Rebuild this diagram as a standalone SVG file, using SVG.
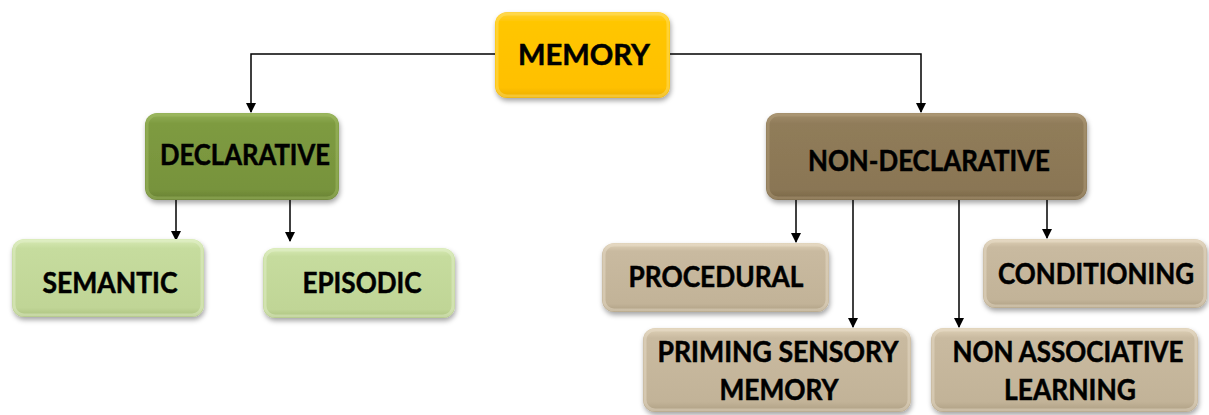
<svg xmlns="http://www.w3.org/2000/svg" width="1209" height="415" viewBox="0 0 1209 415">
  <style>
    .lbl { font-family: "Lato", "Open Sans", "Liberation Sans", sans-serif; font-weight: bold; font-size: 28px; fill: #000; stroke: #000; stroke-width: 0.5; text-anchor: middle; }
    .conn { fill: none; stroke: #000; stroke-width: 1.5; }
    .box { filter: url(#shadow); }
    .hl { fill: none; stroke-width: 3; stroke-opacity: 0.4; }
  </style>
  <defs>
    <filter id="shadow" x="-10%" y="-10%" width="120%" height="135%">
      <feDropShadow dx="1" dy="3" stdDeviation="2.5" flood-color="#000" flood-opacity="0.35"/>
    </filter>
    <marker id="arr" markerWidth="10" markerHeight="10" refX="9" refY="5" orient="auto" markerUnits="userSpaceOnUse">
      <path d="M0,0 L10,5 L0,10 Z" fill="#000"/>
    </marker>
    <linearGradient id="gYellow" x1="0" y1="0" x2="0" y2="1">
      <stop offset="0" stop-color="#FFD033"/>
      <stop offset="0.12" stop-color="#FFC600"/>
      <stop offset="0.88" stop-color="#FFC000"/>
      <stop offset="1" stop-color="#E9AC00"/>
    </linearGradient>
    <linearGradient id="gGreen" x1="0" y1="0" x2="0" y2="1">
      <stop offset="0" stop-color="#93B156"/>
      <stop offset="0.12" stop-color="#7E9B41"/>
      <stop offset="0.88" stop-color="#77933C"/>
      <stop offset="1" stop-color="#677F33"/>
    </linearGradient>
    <linearGradient id="gLight" x1="0" y1="0" x2="0" y2="1">
      <stop offset="0" stop-color="#D8EBB6"/>
      <stop offset="0.12" stop-color="#C6DC9E"/>
      <stop offset="0.88" stop-color="#C0D596"/>
      <stop offset="1" stop-color="#ABC17E"/>
    </linearGradient>
    <linearGradient id="gBrown" x1="0" y1="0" x2="0" y2="1">
      <stop offset="0" stop-color="#A38E6B"/>
      <stop offset="0.12" stop-color="#907C5A"/>
      <stop offset="0.88" stop-color="#8A7654"/>
      <stop offset="1" stop-color="#786647"/>
    </linearGradient>
    <linearGradient id="gTan" x1="0" y1="0" x2="0" y2="1">
      <stop offset="0" stop-color="#E0D2B8"/>
      <stop offset="0.12" stop-color="#C9BAA0"/>
      <stop offset="0.88" stop-color="#C2B398"/>
      <stop offset="1" stop-color="#AD9E82"/>
    </linearGradient>
  </defs>

  <g id="connectors">
    <path class="conn" d="M495,54 H251 V112" marker-end="url(#arr)"/>
    <path class="conn" d="M670,54 H921 V112" marker-end="url(#arr)"/>
    <path class="conn" d="M176,200 V240" marker-end="url(#arr)"/>
    <path class="conn" d="M290,200 V241" marker-end="url(#arr)"/>
    <path class="conn" d="M796,200 V242" marker-end="url(#arr)"/>
    <path class="conn" d="M853,200 V327" marker-end="url(#arr)"/>
    <path class="conn" d="M959,200 V327" marker-end="url(#arr)"/>
    <path class="conn" d="M1047,200 V238" marker-end="url(#arr)"/>
  </g>

  <g id="memory">
    <rect class="box" x="495" y="12" width="175" height="86" rx="12" fill="url(#gYellow)"/>
    <rect class="hl" x="497" y="14" width="171" height="82" rx="10" stroke="#FFE680"/>
    <text class="lbl" x="584" y="65" textLength="132" lengthAdjust="spacingAndGlyphs">MEMORY</text>
  </g>

  <g id="declarative">
    <rect class="box" x="145" y="113" width="194" height="87" rx="12" fill="url(#gGreen)"/>
    <rect class="hl" x="147" y="115" width="190" height="83" rx="10" stroke="#A9C46E"/>
    <text class="lbl" x="245" y="165" textLength="170" lengthAdjust="spacingAndGlyphs">DECLARATIVE</text>
  </g>

  <g id="semantic">
    <rect class="box" x="12" y="239" width="192" height="78" rx="12" fill="url(#gLight)"/>
    <rect class="hl" x="14" y="241" width="188" height="74" rx="10" stroke="#EAF5D6"/>
    <text class="lbl" x="110" y="293" textLength="135" lengthAdjust="spacingAndGlyphs">SEMANTIC</text>
  </g>

  <g id="episodic">
    <rect class="box" x="263" y="248" width="192" height="70" rx="12" fill="url(#gLight)"/>
    <rect class="hl" x="265" y="250" width="188" height="66" rx="10" stroke="#EAF5D6"/>
    <text class="lbl" x="362" y="293" textLength="119" lengthAdjust="spacingAndGlyphs">EPISODIC</text>
  </g>

  <g id="non-declarative">
    <rect class="box" x="766" y="113" width="321" height="87" rx="12" fill="url(#gBrown)"/>
    <rect class="hl" x="768" y="115" width="317" height="83" rx="10" stroke="#B8A583"/>
    <text class="lbl" x="929" y="171" textLength="242" lengthAdjust="spacingAndGlyphs">NON-DECLARATIVE</text>
  </g>

  <g id="procedural">
    <rect class="box" x="602" y="243" width="227" height="69" rx="12" fill="url(#gTan)"/>
    <rect class="hl" x="604" y="245" width="223" height="65" rx="10" stroke="#EFE6D4"/>
    <text class="lbl" x="716" y="287" textLength="175" lengthAdjust="spacingAndGlyphs">PROCEDURAL</text>
  </g>

  <g id="conditioning">
    <rect class="box" x="983" y="239" width="224" height="69" rx="12" fill="url(#gTan)"/>
    <rect class="hl" x="985" y="241" width="220" height="65" rx="10" stroke="#EFE6D4"/>
    <text class="lbl" x="1096" y="284" textLength="196" lengthAdjust="spacingAndGlyphs">CONDITIONING</text>
  </g>

  <g id="priming-sensory-memory">
    <rect class="box" x="643" y="328" width="268" height="84" rx="12" fill="url(#gTan)"/>
    <rect class="hl" x="645" y="330" width="264" height="80" rx="10" stroke="#EFE6D4"/>
    <text class="lbl" x="778" y="362" textLength="241" lengthAdjust="spacingAndGlyphs">PRIMING SENSORY</text>
    <text class="lbl" x="779" y="400" textLength="119" lengthAdjust="spacingAndGlyphs">MEMORY</text>
  </g>

  <g id="non-associative-learning">
    <rect class="box" x="931" y="328" width="267" height="84" rx="12" fill="url(#gTan)"/>
    <rect class="hl" x="933" y="330" width="263" height="80" rx="10" stroke="#EFE6D4"/>
    <text class="lbl" x="1068" y="362" textLength="231" lengthAdjust="spacingAndGlyphs">NON ASSOCIATIVE</text>
    <text class="lbl" x="1070" y="400" textLength="132" lengthAdjust="spacingAndGlyphs">LEARNING</text>
  </g>
</svg>
